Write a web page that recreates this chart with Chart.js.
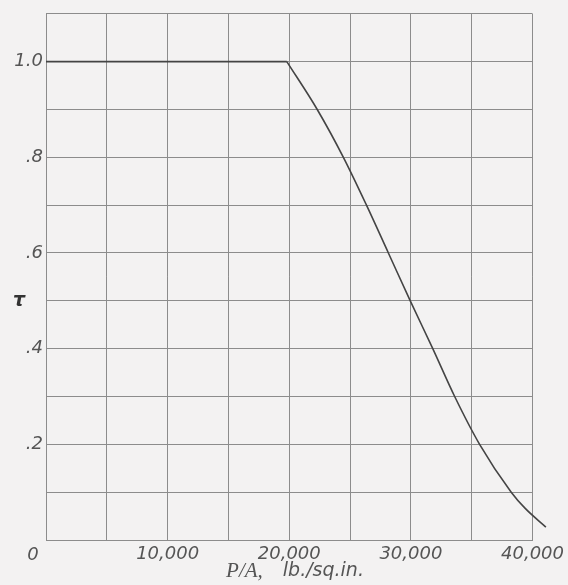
<!DOCTYPE html>
<html>
<head>
<meta charset="utf-8">
<script src="https://cdn.jsdelivr.net/npm/chart.js@4/dist/chart.umd.min.js"></script>
<style>
  body { margin: 0; background: #f3f2f2; }
  #wrap { width: 568px; height: 585px; }
</style>
</head>
<body>
<div id="wrap"><canvas id="tauChart"></canvas></div>
<script>
// flat part: tau = 1 up to the knee
const flatStress = [0, 19800];
const flatTau = [1, 1];

// falling part, from the knee past the last grid line
const curveStress = [19800, 22300, 24450, 26350, 28150, 29950, 31800, 33600, 35650, 38250, 39400, 41100];
const curveTau = [1, 0.9, 0.8, 0.7, 0.6, 0.5, 0.4, 0.3, 0.2, 0.1, 0.066, 0.027];

const xLabels = [10000, 20000, 30000, 40000];
const yLabels = [0.2, 0.4, 0.6, 0.8, 1.0];

const inkColor = "#555";
const lineColor = "#444";
const gridColor = "#8c8c8c";
const labelFont = { family: "DejaVu Sans", size: 18, style: "italic" };

const toPoints = (xs, ys) => xs.map((x, i) => ({ x: x, y: ys[i] }));

// corner "0", the tau symbol and the axis caption
const extraText = {
  id: "extraText",
  afterDraw(chart) {
    const c = chart.ctx;
    const x = chart.scales.x, y = chart.scales.y;
    c.save();
    c.fillStyle = inkColor;
    c.textBaseline = "middle";
    c.font = "italic 18px 'DejaVu Sans'";
    c.textAlign = "center";
    c.fillText("0", x.getPixelForValue(0) - 13, y.getPixelForValue(0) + 15);

    c.fillStyle = "#333";
    c.font = "italic bold 19px 'DejaVu Sans'";
    c.fillText("\u03c4", 19, y.getPixelForValue(0.5));

    // "P/A," in serif italic, the units in sans
    c.fillStyle = inkColor;
    const part1 = "P/A,";
    const part2 = "lb./sq.in.";
    const gap = 20;
    c.font = "italic 21px 'Liberation Serif'";
    const w1 = c.measureText(part1).width;
    c.font = "italic 19px 'DejaVu Sans'";
    const w2 = c.measureText(part2).width;
    const left = 295 - (w1 + gap + w2) / 2;
    const base = 571;
    c.textAlign = "left";
    c.font = "italic 21px 'Liberation Serif'";
    c.fillText(part1, left, base);
    c.font = "italic 19px 'DejaVu Sans'";
    c.fillText(part2, left + w1 + gap, base);
    c.restore();
  }
};

const ctx = document.getElementById("tauChart").getContext("2d");
const tauChart = new Chart(ctx, {
  type: "line",
  data: {
    datasets: [
      {
        data: toPoints(flatStress, flatTau),
        borderColor: lineColor,
        borderWidth: 1.6,
        pointRadius: 0,
        fill: false,
      },
      {
        data: toPoints(curveStress, curveTau),
        borderColor: lineColor,
        borderWidth: 1.6,
        pointRadius: 0,
        fill: false,
        cubicInterpolationMode: "monotone",
        clip: false,
      },
    ],
  },
  options: {
    responsive: true,
    maintainAspectRatio: false,
    animation: false,
    layout: { padding: { left: 0, right: 34, top: 5, bottom: 0 } },
    plugins: {
      legend: { display: false },
      tooltip: { enabled: false },
    },
    scales: {
      x: {
        type: "linear",
        min: 0,
        max: 40000,
        afterFit: (scale) => { scale.height = 45; },
        border: { color: gridColor, width: 1 },
        grid: { color: gridColor, lineWidth: 1, drawTicks: false },
        ticks: {
          stepSize: 5000,
          padding: 4,
          color: inkColor,
          font: labelFont,
          maxRotation: 0,
          autoSkip: false,
          callback: (v) => xLabels.includes(v) ? v.toLocaleString("en-US") : "",
        },
      },
      y: {
        min: 0,
        max: 1.1,
        afterFit: (scale) => { scale.width = 46; },
        border: { color: gridColor, width: 1 },
        grid: { color: gridColor, lineWidth: 1, drawTicks: false },
        ticks: {
          stepSize: 0.1,
          padding: 3,
          color: inkColor,
          font: labelFont,
          autoSkip: false,
          callback: (v) => {
            const t = Math.round(v * 10) / 10;
            if (!yLabels.includes(t)) return "";
            return t === 1 ? "1.0" : "." + Math.round(t * 10);
          },
        },
      },
    },
  },
  plugins: [extraText],
});
</script>
</body>
</html>
